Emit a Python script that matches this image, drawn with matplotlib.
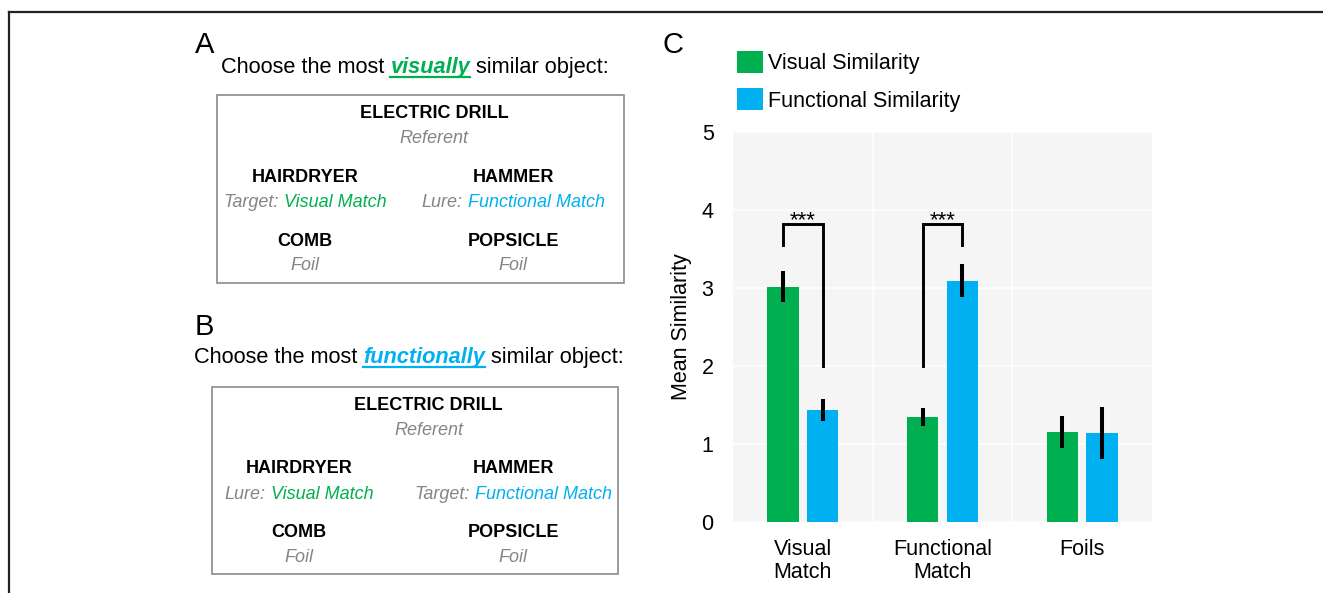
import numpy as np
import matplotlib
matplotlib.use("Agg")
import matplotlib.pyplot as plt
from matplotlib.patches import Rectangle
from matplotlib.lines import Line2D

plt.rcParams['font.family'] = ['Liberation Sans', 'DejaVu Sans']

# data for panel C
categories = ['Visual\nMatch', 'Functional\nMatch', 'Foils']
series_names = ['Visual Similarity', 'Functional Similarity']
visual_sim = [3.01, 1.35, 1.15]
visual_lo = [2.82, 1.23, 0.95]
visual_hi = [3.22, 1.46, 1.36]
functional_sim = [1.44, 3.09, 1.14]
functional_lo = [1.30, 2.88, 0.81]
functional_hi = [1.58, 3.31, 1.47]
yticks = [0, 1, 2, 3, 4, 5]

# significance brackets: (category, low end on green side, low end on blue side, top)
brackets = [(0, 3.55, 2.0, 3.82), (1, 2.0, 3.55, 3.82)]

GREEN = '#00B050'
BLUE = '#00B0F0'
GREY = '#858585'

W, H = 1323, 593
fig = plt.figure(figsize=(W / 100, H / 100), dpi=100)


def px(x, y):
    # pixel position (from top-left) -> figure fraction
    return x / W, 1 - y / H


renderer = fig.canvas.get_renderer()


def text_row(parts, x, y, align='left', gap=0.278):
    # put pieces of text next to each other on one baseline
    texts = []
    for s, kw in parts:
        t = fig.text(0, 0, s, va='baseline', ha='left', **kw)
        texts.append(t)
    widths = [t.get_window_extent(renderer).width for t in texts]
    sizes = [t.get_fontsize() * 100 / 72 for t in texts]
    total = sum(widths) + sum(gap * s for s in sizes[1:])
    cur = x - total / 2 if align == 'center' else x
    for i, t in enumerate(texts):
        if i > 0:
            cur += gap * sizes[i]
        t.set_position(px(cur, y))
        cur += widths[i]
    return texts


def underline(t, y, color):
    bb = t.get_window_extent(renderer)
    x0, _ = px(bb.x0, y)
    x1, yy = px(bb.x1, y)
    fig.add_artist(Line2D([x0, x1], [yy, yy], color=color, lw=1.6))


# outer frame (top and left edges)
fig.add_artist(Line2D([px(9, 12)[0], 1.0], [px(9, 12)[1]] * 2, color='#222222', lw=1.6))
fig.add_artist(Line2D([px(9, 12)[0]] * 2, [px(9, 12)[1], 0.0], color='#222222', lw=1.6))

# panel letters
fig.text(*px(195, 53), 'A', fontsize=21, va='baseline')
fig.text(*px(195, 335), 'B', fontsize=21, va='baseline')
fig.text(*px(662, 53), 'C', fontsize=21, va='baseline')

main = dict(fontsize=15.7, color='black')
emph = dict(fontsize=15.7, fontweight='bold', style='italic')
bold = dict(fontsize=13, fontweight='bold', color='black')
ital = dict(fontsize=13, style='italic', color=GREY)


def choice_box(x0, y0, x1, y1, rows):
    fig.add_artist(Rectangle(px(x0, y1), (x1 - x0) / W, (y1 - y0) / H,
                             transform=fig.transFigure, fill=False,
                             edgecolor='#8a8a8a', lw=1.2))
    for parts, cx, by in rows:
        text_row(parts, cx, by, align='center')


# panel A
ta = text_row([('Choose the most', main), ('visually', dict(emph, color=GREEN)),
               ('similar object:', main)], 221, 73)
underline(ta[1], 76.5, GREEN)
choice_box(217, 95, 624, 283, [
    ([('ELECTRIC DRILL', bold)], 434, 118),
    ([('Referent', ital)], 434, 143),
    ([('HAIRDRYER', bold)], 305, 182),
    ([('HAMMER', bold)], 513, 182),
    ([('Target:', ital), ('Visual Match', dict(ital, color=GREEN))], 305, 207),
    ([('Lure:', ital), ('Functional Match', dict(ital, color=BLUE))], 513, 207),
    ([('COMB', bold)], 305, 246),
    ([('POPSICLE', bold)], 513, 246),
    ([('Foil', ital)], 305, 270),
    ([('Foil', ital)], 513, 270),
])

# panel B
tb = text_row([('Choose the most', main), ('functionally', dict(emph, color=BLUE)),
               ('similar object:', main)], 194, 363)
underline(tb[1], 366.5, BLUE)
choice_box(212, 387, 618, 574, [
    ([('ELECTRIC DRILL', bold)], 428, 410),
    ([('Referent', ital)], 429, 435),
    ([('HAIRDRYER', bold)], 299, 473),
    ([('HAMMER', bold)], 513, 473),
    ([('Lure:', ital), ('Visual Match', dict(ital, color=GREEN))], 299, 499),
    ([('Target:', ital), ('Functional Match', dict(ital, color=BLUE))], 513, 499),
    ([('COMB', bold)], 299, 537),
    ([('POPSICLE', bold)], 513, 537),
    ([('Foil', ital)], 299, 562),
    ([('Foil', ital)], 513, 562),
])

# panel C: bar chart
ax = fig.add_axes([733 / W, 1 - 522 / H, 419 / W, 390 / H])
ax.set_facecolor('#F5F5F5')
ax.set_axisbelow(True)

x = np.arange(len(categories))
off, bw = 0.142, 0.225
vis = np.array(visual_sim)
fun = np.array(functional_sim)
ax.bar(x - off, vis, bw, color=GREEN, label=series_names[0])
ax.bar(x + off, fun, bw, color=BLUE, label=series_names[1])
ax.vlines(x - off, visual_lo, visual_hi, color='black', lw=2.9)
ax.vlines(x + off, functional_lo, functional_hi, color='black', lw=2.9)

for c, lo_g, lo_b, top in brackets:
    ax.plot([c - off, c - off, c + off, c + off], [lo_g, top, top, lo_b],
            color='black', lw=2.1, solid_joinstyle='miter')
    ax.text(c, top - 0.03, '***', ha='center', va='baseline', fontsize=16)

ax.set_xlim(-0.5, 2.5)
ax.set_ylim(0, 5)
ax.set_yticks(yticks)
ax.set_xticks(x)
ax.set_xticklabels(categories, fontsize=15.5, linespacing=1.15)
ax.set_xticks([0.5, 1.5], minor=True)
ax.tick_params(axis='both', which='both', length=0)
ax.tick_params(axis='y', labelsize=15.5, pad=14)
ax.tick_params(axis='x', pad=12)
ax.grid(True, axis='y', which='major', color='white', lw=1.1)
ax.grid(True, axis='x', which='minor', color='white', lw=1.1)
for sp in ax.spines.values():
    sp.set_visible(False)
ax.set_ylabel('Mean Similarity', fontsize=15.5)
ax.yaxis.set_label_coords(-0.098, 0.5)

ax.legend(loc='upper left', bbox_to_anchor=px(737, 51), bbox_transform=fig.transFigure,
          fontsize=15.5, frameon=False, handlelength=1.2, handleheight=1.2,
          handletextpad=0.25, labelspacing=0.65, borderpad=0, borderaxespad=0)

fig.savefig('out.png', dpi=100)
